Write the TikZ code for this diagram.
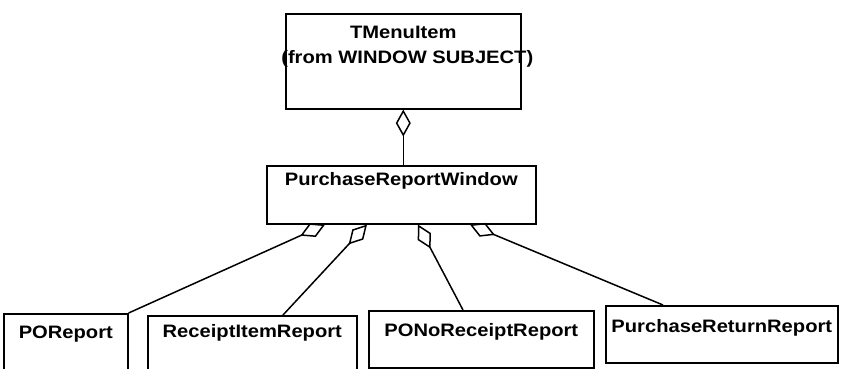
\documentclass[tikz,border=0pt]{standalone}
\usepackage{fontspec}
\setmainfont{Liberation Sans}[FakeStretch=1.12]
\usetikzlibrary{arrows.meta,calc}
\begin{document}
\begin{tikzpicture}[x=1pt,y=-1pt,
  cls/.style={draw, line width=1.6pt, rectangle, inner sep=0pt, anchor=north west,
              font=\bfseries\fontsize{18}{25}\selectfont},
  agg/.style={line width=1.5pt, {Diamond[open,length=27pt,width=15pt,line width=1.5pt]}-}]
\useasboundingbox[fill=white] (0,0) rectangle (854,369);
% classes
\node[cls, minimum width=235pt, text height=25pt, text depth=70pt] (tmi) at (285,13)
  {\makebox[235pt]{\vtop{\halign{\hfil#\hfil\cr TMenuItem\cr \hskip8pt(from WINDOW SUBJECT)\cr}}}};
\node[cls, minimum width=269pt, text height=19.5pt, text depth=38.5pt] (prw) at (266,165) {PurchaseReportWindow};
\node[cls, minimum width=124pt, text height=25pt, text depth=31pt] (po) at (3,313) {POReport};
\node[cls, minimum width=209pt, text height=22pt, text depth=33pt] (rir) at (147,315) {ReceiptItemReport};
\node[cls, minimum width=225pt, text height=26pt, text depth=31pt] (pono) at (368,310) {PONoReceiptReport};
\node[cls, minimum width=232pt, text height=27pt, text depth=30pt] (prr) at (605,305) {PurchaseReturnReport};
% connector ends
\coordinate (s1) at ($(prw.south west)+(59,0)$);
\coordinate (s2) at ($(prw.south west)+(101,0)$);
\coordinate (s3) at ($(prw.south west)+(152,0)$);
\coordinate (s4) at ($(prw.south west)+(204,0)$);
\coordinate (e2) at ($(rir.north west)+(136,0)$);
\coordinate (e3) at ($(pono.north west)+(95,0)$);
\coordinate (e4) at ($(prr.north west)+(58,0)$);
% aggregations
\draw[agg] (tmi.south) -- (tmi.south |- prw.north);
\draw[agg] (s1) -- (po.north east);
\draw[agg] (s2) -- (e2);
\draw[agg] (s3) -- (e3);
\draw[agg] (s4) -- (e4);
\end{tikzpicture}
\end{document}
